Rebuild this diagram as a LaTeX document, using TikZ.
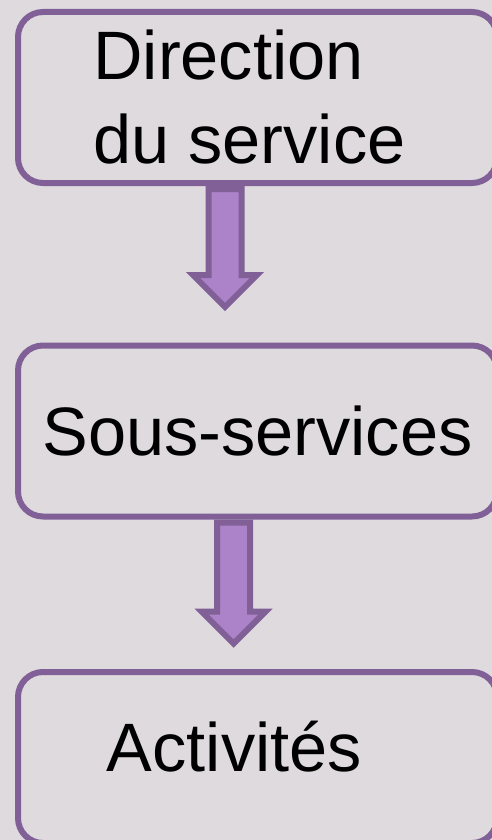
\documentclass[tikz,border=0pt]{standalone}
\usepackage{fontspec}
\setmainfont{Liberation Sans}
\usetikzlibrary{shapes.arrows}
\definecolor{fondo}{HTML}{DEDADE}
\definecolor{borde}{HTML}{806096}
\definecolor{relleno}{HTML}{AC82C8}

\begin{document}
\begin{tikzpicture}[x = 1pt, y = -1pt, font = \fontsize{68.5}{84}\selectfont,
	caja/.style = {draw = borde, line width = 6pt, rounded corners = 25pt, minimum width = 479pt, minimum height = 171pt, inner sep = 0pt},
	flecha/.style = {single arrow, draw = borde, fill = relleno, line width = 6pt, inner sep = 0pt, text height = 13.5pt, text depth = 13.5pt, single arrow head extend = 15.5pt, rotate = -90, anchor = tail}]
	\fill[fondo] (0, 0) rectangle (492, 840);
	\useasboundingbox (0, 0) rectangle (492, 840);
	\clip (0, 0) rectangle (492, 840);
	\node[caja, label = {[align = left, xshift = -8pt]center:Direction\\du service}] (direction) at (257.5, 97.5) {};
	\node[caja] (sousserv) at (257.5, 431) {Sous-services};
	\node[caja, label = {[xshift = -23pt, yshift = 11pt]center:Activités}] (activites) at (257.5, 757.5) {};
	\node[flecha, minimum height = 118pt] (fleche1) at ([xshift = -32.5pt]direction.south) {};
	\node[flecha, minimum height = 121pt] (fleche2) at ([xshift = -24pt]sousserv.south) {};
\end{tikzpicture}
\end{document}
